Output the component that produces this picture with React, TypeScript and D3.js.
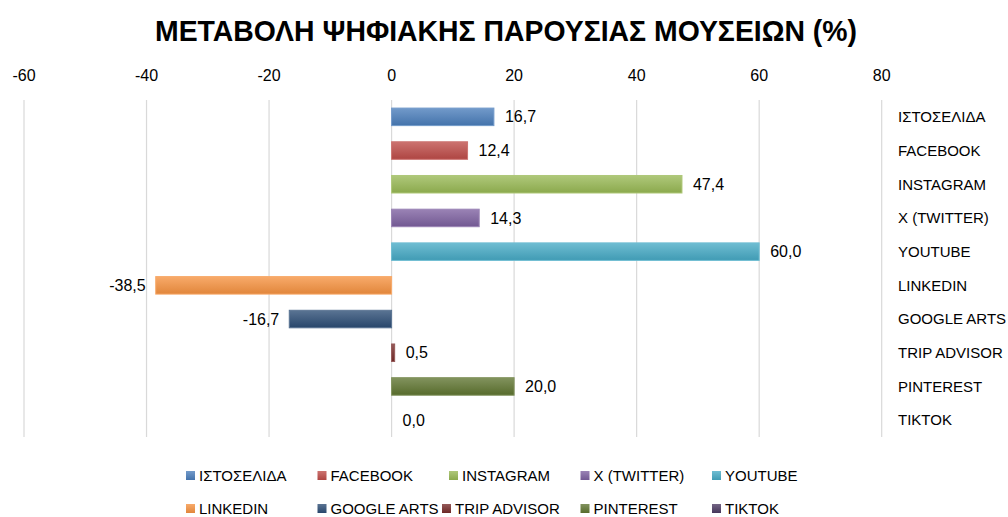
import React from "react";
import * as d3 from "d3";

const categories = ["ΙΣΤΟΣΕΛΙΔΑ", "FACEBOOK", "INSTAGRAM", "X (TWITTER)", "YOUTUBE", "LINKEDIN", "GOOGLE ARTS", "TRIP ADVISOR", "PINTEREST", "TIKTOK"];
const values = [16.7, 12.4, 47.4, 14.3, 60.0, -38.5, -16.7, 0.5, 20.0, 0.0];
const colors = ["#4a7ebb", "#be4b48", "#98b954", "#7d60a0", "#46aac5", "#f69240", "#2c4d75", "#772c2a", "#5f7530", "#4d3b62"];
const ticks = [-60, -40, -20, 0, 20, 40, 60, 80];
const title = "ΜΕΤΑΒΟΛΗ ΨΗΦΙΑΚΗΣ ΠΑΡΟΥΣΙΑΣ ΜΟΥΣΕΙΩΝ (%)";

const W = 1008, H = 517;
const FONT = "'Liberation Sans', Arial, sans-serif";

export default function App() {
  const x = d3.scaleLinear().domain([-60, 80]).range([24, 881.7]);
  const y = d3.scaleBand<string>().domain(categories).range([100, 437]).paddingInner(0.48).paddingOuter(0.24);
  const fmt = (v: number) => v.toFixed(1).replace(".", ",");
  const lighten = (c: string) => d3.interpolateRgb(c, "#ffffff")(0.22);
  const darken = (c: string) => d3.color(c)!.darker(0.25).formatHex();
  const legendX0 = 186, legendDX = 131.5, legendY = [476, 509];

  return (
    <svg width={W} height={H} style={{ position: "absolute", left: 0, top: 0, background: "#fff" }} fontFamily={FONT}>
      <defs>
        {colors.map((c, i) => (
          <linearGradient key={i} id={`g${i}`} x1="0" y1="0" x2="0" y2="1">
            <stop offset="0" stopColor={lighten(c)} />
            <stop offset="1" stopColor={darken(c)} />
          </linearGradient>
        ))}
      </defs>
      <rect width={W} height={H} fill="#fff" />
      <text x={506} y={41} textAnchor="middle" fontSize={30} fontWeight="bold" fill="#000" textLength={702} lengthAdjust="spacingAndGlyphs">{title}</text>
      {ticks.map(t => (
        <g key={t}>
          <line x1={x(t)} x2={x(t)} y1={100} y2={437} stroke="#d9d9d9" strokeWidth={1.2} />
          <text x={x(t)} y={81} textAnchor="middle" fontSize={16} fill="#000">{t}</text>
        </g>
      ))}
      {categories.map((c, i) => {
        const v = values[i];
        const y0 = y(c)!;
        const bh = y.bandwidth();
        const x0 = Math.min(x(0), x(v));
        const w = Math.abs(x(v) - x(0));
        const cy = y0 + bh / 2;
        const cyBand = y0 + bh / 2;
        return (
          <g key={c}>
            {w > 0 && <rect x={x0} y={y0} width={w} height={bh} fill={`url(#g${i})`} stroke={lighten(c === "" ? "#000" : colors[i])} strokeWidth={1} />}
            <text x={v < 0 ? x(v) - 10 : x(v) + 11} y={cy} dy="0.35em" textAnchor={v < 0 ? "end" : "start"} fontSize={16} fill="#000">{fmt(v)}</text>
            <text x={898} y={cyBand} dy="0.35em" fontSize={15} fill="#000">{c}</text>
          </g>
        );
      })}
      {categories.map((c, i) => {
        const row = Math.floor(i / 5), col = i % 5;
        let lx = legendX0 + col * legendDX;
        if (c === "TRIP ADVISOR") lx -= 7;
        const ly = legendY[row];
        return (
          <g key={"l" + c}>
            <rect x={lx} y={ly - 5} width={9} height={9} fill={`url(#g${i})`} />
            <text x={lx + 13} y={ly} dy="0.35em" fontSize={15} fill="#000">{c}</text>
          </g>
        );
      })}
    </svg>
  );
}
